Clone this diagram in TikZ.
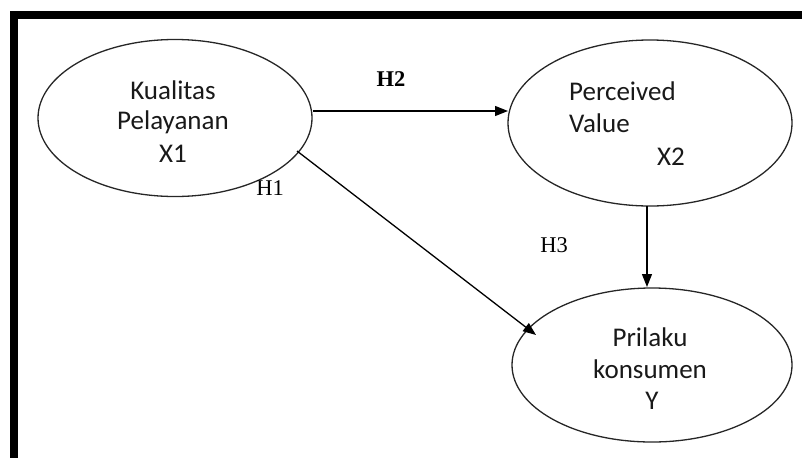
\documentclass[tikz,border=0pt]{standalone}
\usepackage{fontspec}
\setmainfont{Carlito}
\newfontfamily\serifh{Liberation Serif}
\usetikzlibrary{shapes.geometric,arrows.meta,calc}
\begin{document}
\begin{tikzpicture}[x=1pt,y=-1pt,
  oval/.style={draw=black!85,line width=1.3pt,ellipse,inner sep=0pt},
  lbl/.style={font=\fontsize{27}{31}\selectfont,text=black!90,inner sep=0pt,anchor=center},
  hyp/.style={font=\serifh\fontsize{22.5}{25}\selectfont,inner sep=0pt},
  arr/.style={line width=1.3pt,-{Triangle[length=13pt,width=10pt]}}]
\useasboundingbox (0,0) rectangle (802,458);
% frame
\fill[black] (10,11) rectangle (802,19);
\fill[black] (10,11) rectangle (18,458);
% ellipses
\node[oval,minimum width=274pt,minimum height=157pt] (e1) at (175,118) {};
\node[oval,minimum width=284pt,minimum height=166pt] (e2) at (650,123) {};
\node[oval,minimum width=280pt,minimum height=154pt] (e3) at (652,365) {};
% texts
\node[lbl] (t1a) at (173,90) {Kualitas};
\node[lbl] (t1b) at (173,122) {Pelayanan};
\node[lbl] (t1c) at (173,154) {X1};
\node[lbl,anchor=west] (t2a) at (569,91) {Perceived};
\node[lbl,anchor=west] (t2b) at (569,123) {Value};
\node[lbl] (t2c) at (671,157) {X2};
\node[lbl] (t3a) at (650,337) {Prilaku};
\node[lbl] (t3b) at (650,369) {konsumen};
\node[lbl] (t3c) at (652,401) {Y};
% hypothesis labels
\node[hyp,font=\serifh\bfseries\fontsize{22.5}{25}\selectfont] (h2) at (391,79) {H2};
\node[hyp] (h1) at (270,188) {H1};
\node[hyp] (h3) at (554,245) {H3};
% connectors
\coordinate (h2s) at (313,111);
\coordinate (h2e) at (508,111);
\coordinate (h1s) at (297,151);
\coordinate (h1e) at (536,335);
\coordinate (h3s) at (647,206);
\coordinate (h3e) at (647,287);
\draw[arr] (h2s) -- (h2e);
\draw[arr] (h1s) -- (h1e);
\draw[arr] (h3s) -- (h3e);
\end{tikzpicture}
\end{document}
